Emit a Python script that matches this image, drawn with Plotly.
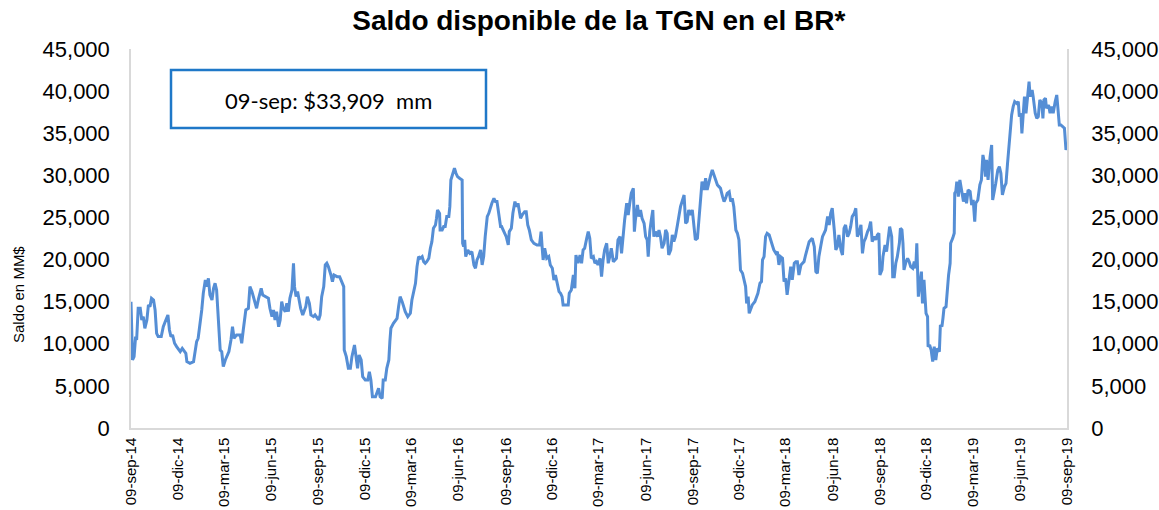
import pandas as pd
import plotly.graph_objects as go

# Días transcurridos desde el 09-sep-14 y saldo (MM$)
dias = [0, 1, 3, 6, 9, 11, 14, 18, 21, 24, 27, 31, 34, 37, 40, 44, 47, 50, 53, 59,
        63, 68, 72, 75, 78, 81, 85, 89, 92, 96, 100, 104, 107, 109, 115, 122, 125, 128, 131, 135,
        138, 141, 145, 148, 151, 154, 158, 161, 164, 167, 171, 174, 177, 180, 184, 187, 191, 195, 198, 201,
        206, 213, 216, 219, 224, 229, 232, 236, 239, 242, 245, 249, 254, 257, 262, 268, 271, 275, 278, 281,
        284, 288, 291, 294, 297, 301, 304, 307, 310, 314, 317, 319, 322, 325, 328, 331, 335, 338, 341, 344,
        348, 351, 356, 359, 366, 369, 372, 376, 379, 382, 385, 390, 393, 396, 402, 407, 411, 415, 416, 420,
        424, 428, 431, 436, 439, 442, 445, 449, 452, 457, 462, 465, 468, 471, 477, 480, 483, 486, 490, 492,
        496, 499, 503, 505, 507, 512, 516, 519, 522, 525, 529, 532, 535, 540, 545, 548, 551, 555, 558, 561,
        564, 568, 571, 574, 577, 581, 584, 587, 590, 594, 596, 598, 602, 603, 607, 610, 613, 616, 620, 622,
        624, 628, 631, 634, 637, 641, 646, 647, 649, 651, 653, 657, 661, 665, 669, 672, 675, 678, 682, 685,
        688, 691, 695, 698, 701, 704, 708, 711, 714, 717, 721, 723, 727, 732, 736, 738, 742, 745, 749, 752,
        755, 760, 763, 768, 771, 774, 777, 781, 786, 792, 797, 800, 802, 804, 807, 811, 815, 818, 822, 825,
        828, 831, 835, 838, 841, 843, 848, 853, 855, 859, 863, 866, 868, 872, 876, 879, 882, 885, 889, 892,
        895, 898, 902, 905, 908, 911, 915, 918, 921, 924, 928, 931, 934, 937, 941, 944, 947, 950, 954, 957,
        960, 963, 967, 970, 973, 976, 980, 982, 984, 988, 991, 994, 997, 1001, 1004, 1007, 1009, 1012, 1015, 1018,
        1020, 1023, 1027, 1030, 1033, 1036, 1040, 1043, 1046, 1049, 1053, 1056, 1059, 1062, 1066, 1069, 1072, 1075, 1079, 1082,
        1085, 1088, 1092, 1095, 1098, 1101, 1105, 1108, 1111, 1114, 1118, 1121, 1124, 1128, 1131, 1134, 1137, 1141, 1144, 1147,
        1150, 1154, 1157, 1160, 1163, 1167, 1170, 1173, 1176, 1180, 1183, 1186, 1189, 1193, 1196, 1199, 1201, 1204, 1206, 1209,
        1212, 1217, 1221, 1223, 1227, 1230, 1232, 1235, 1238, 1241, 1245, 1248, 1251, 1254, 1258, 1261, 1264, 1267, 1271, 1274,
        1277, 1280, 1284, 1287, 1290, 1294, 1297, 1300, 1303, 1307, 1310, 1313, 1316, 1320, 1323, 1326, 1329, 1333, 1336, 1339,
        1342, 1346, 1349, 1352, 1355, 1359, 1362, 1365, 1368, 1372, 1375, 1378, 1381, 1385, 1388, 1391, 1394, 1398, 1401, 1404,
        1407, 1411, 1414, 1417, 1420, 1424, 1427, 1430, 1433, 1437, 1440, 1443, 1446, 1450, 1453, 1456, 1459, 1461, 1465, 1467,
        1471, 1474, 1477, 1480, 1484, 1486, 1489, 1492, 1495, 1499, 1501, 1504, 1506, 1508, 1512, 1515, 1518, 1521, 1525, 1528,
        1531, 1533, 1536, 1539, 1542, 1544, 1547, 1551, 1554, 1555, 1558, 1561, 1564, 1567, 1570, 1573, 1577, 1579, 1582, 1584,
        1586, 1590, 1592, 1595, 1598, 1599, 1603, 1606, 1607, 1609, 1611, 1614, 1617, 1620, 1624, 1627, 1630, 1633, 1637, 1640,
        1643, 1646, 1648, 1652, 1654, 1656, 1659, 1662, 1665, 1667, 1669, 1672, 1676, 1679, 1681, 1684, 1687, 1691, 1694, 1697,
        1700, 1704, 1707, 1710, 1713, 1715, 1718, 1721, 1724, 1728, 1731, 1733, 1736, 1738, 1741, 1743, 1746, 1749, 1752, 1754,
        1758, 1760, 1764, 1767, 1770, 1773, 1777, 1779, 1781, 1784, 1786, 1790, 1793, 1796, 1799, 1803, 1806, 1808, 1811, 1814,
        1818, 1821, 1824, 1826]

saldo = [15000, 12830, 8080, 8470, 10850, 10450, 14210, 14210, 12830, 13220, 11840, 12830, 14610, 14410, 15400, 15200, 14010, 11240, 10850, 10850,
         12030, 12830, 13420, 11640, 10850, 11050, 10060, 9660, 9460, 9070, 9460, 9070, 8870, 7880, 7680, 7880, 9070, 10250, 10650, 12430,
         14010, 15990, 17580, 16780, 17770, 15790, 15200, 16590, 17180, 16390, 12830, 9260, 9070, 7290, 8080, 8470, 9070, 10450, 12030, 10650,
         11050, 11050, 10060, 11640, 14010, 14210, 16780, 16190, 15600, 15000, 14210, 15400, 16590, 15790, 15600, 15400, 14210, 13220, 14010, 12830,
         13820, 12030, 12830, 15000, 14210, 13820, 14800, 13820, 15400, 16390, 19550, 16780, 15600, 16190, 15200, 14210, 13420, 14010, 14410, 15600,
         14800, 13420, 13220, 13420, 12830, 13420, 15600, 16790, 19360, 19560, 19160, 18170, 17380, 18170, 17970, 17970, 17380, 16790, 9260, 8470,
         7090, 7090, 8470, 9860, 8470, 7090, 8670, 8080, 6100, 5700, 5700, 6690, 5700, 3720, 3720, 4120, 4710, 3720, 3520, 5700,
         5700, 7090, 8080, 10250, 11840, 12430, 12830, 13020, 14410, 15600, 15000, 14410, 13820, 13220, 13620, 15200, 16000, 17180, 19160, 20350,
         20150, 20350, 19750, 19560, 19750, 20150, 21340, 22130, 23710, 24110, 24900, 25890, 25490, 23510, 23510, 23910, 23910, 25100, 25100, 26280,
         29450, 30240, 30835, 30240, 29850, 29650, 29450, 21930, 21530, 22330, 20350, 21140, 20740, 20940, 19360, 18960, 19950, 20350, 21140, 19360,
         20350, 22720, 25100, 25490, 26280, 26680, 27270, 26880, 26880, 25490, 23910, 23910, 23320, 22720, 21730, 23320, 23710, 25490, 26880, 26280,
         26680, 24900, 25290, 25690, 25690, 24110, 23510, 22330, 21930, 21730, 21730, 23320, 21530, 19950, 21340, 20150, 20350, 19360, 18960, 17580,
         18170, 17380, 16190, 15990, 15600, 14610, 14610, 14610, 15990, 16390, 18170, 16590, 20540, 19560, 20540, 19560, 21140, 21340, 22520, 23320,
         22520, 20150, 20350, 19560, 19750, 19360, 20150, 17970, 19950, 21140, 21930, 19560, 20350, 21340, 19750, 19950, 20150, 22330, 22720, 20740,
         22920, 24700, 26680, 25290, 26680, 27870, 28460, 23320, 24700, 26480, 25100, 25890, 24900, 24300, 22720, 22330, 20350, 23320, 24700, 25890,
         22720, 23320, 22720, 23510, 22720, 21340, 21930, 23510, 23120, 20540, 21140, 22920, 22130, 22720, 24110, 25490, 26280, 26880, 27670, 24300,
         24500, 25890, 25290, 25890, 24110, 22330, 22520, 24900, 26680, 29250, 28260, 29650, 28260, 29450, 30040, 30640, 30040, 29450, 28860, 28660,
         28460, 27470, 26880, 27270, 27870, 28060, 26880, 27270, 26280, 23510, 23120, 22330, 18760, 18370, 17380, 16790, 14800, 15600, 13620, 14210,
         14610, 15000, 15600, 15990, 17180, 17380, 19950, 20350, 22720, 23120, 22920, 22130, 21730, 21140, 20740, 20940, 19360, 20350, 20150, 17380,
         17770, 15800, 18170, 19160, 17580, 19560, 19750, 19750, 18170, 19360, 19560, 19750, 20540, 21530, 22130, 22330, 22520, 21530, 18570, 18370,
         20350, 21730, 22720, 23120, 23510, 25100, 24110, 25490, 26090, 23510, 21140, 21530, 22920, 21140, 20540, 23710, 24110, 22720, 23120, 23910,
         25100, 25490, 26090, 22720, 23120, 24110, 20740, 22130, 22520, 23320, 23710, 24500, 22130, 22720, 22330, 22920, 23120, 18170, 18760, 20350,
         21730, 20940, 22720, 23910, 22720, 17970, 17970, 19560, 20350, 21930, 23710, 23510, 21930, 18760, 19750, 20150, 19750, 19160, 18960, 19750,
         18960, 21930, 15600, 17180, 18570, 14800, 17580, 13620, 13220, 9660, 9860, 9260, 7880, 9660, 8080, 9460, 9070, 12230, 12040, 13030,
         14210, 14410, 15990, 18170, 19560, 21930, 22520, 23120, 27870, 28070, 29250, 27470, 29450, 28260, 26880, 27870, 26680, 28260, 28070, 26480,
         27080, 24500, 26680, 27080, 28460, 28860, 29450, 32420, 31430, 29850, 31830, 29450, 32220, 33610, 27080, 27870, 29050, 30640, 31030, 30240,
         27670, 28660, 29050, 31430, 33610, 35190, 37170, 38160, 38750, 38550, 38750, 36970, 37370, 34990, 37760, 39350, 37370, 39740, 41130, 39350,
         40140, 39350, 37370, 36770, 36970, 38950, 38550, 36770, 38950, 39150, 37960, 38360, 37370, 38160, 37370, 38750, 39540, 38160, 35980, 35980,
         35780, 35590, 33010, 33909]

etiquetas_x = ["09-sep-14", "09-dic-14", "09-mar-15", "09-jun-15", "09-sep-15", "09-dic-15", "09-mar-16",
               "09-jun-16", "09-sep-16", "09-dic-16", "09-mar-17", "09-jun-17", "09-sep-17", "09-dic-17",
               "09-mar-18", "09-jun-18", "09-sep-18", "09-dic-18", "09-mar-19", "09-jun-19", "09-sep-19"]
fechas_ticks = ["2014-09-09", "2014-12-09", "2015-03-09", "2015-06-09", "2015-09-09", "2015-12-09", "2016-03-09",
                "2016-06-09", "2016-09-09", "2016-12-09", "2017-03-09", "2017-06-09", "2017-09-09", "2017-12-09",
                "2018-03-09", "2018-06-09", "2018-09-09", "2018-12-09", "2019-03-09", "2019-06-09", "2019-09-09"]
ticks_y = [0, 5000, 10000, 15000, 20000, 25000, 30000, 35000, 40000, 45000]

titulo = "Saldo disponible de la TGN en el BR*"
titulo_y = "Saldo en MM$"
nota = "09-sep: $33,909  mm"

fechas = pd.Timestamp("2014-09-09") + pd.to_timedelta(dias, unit="D")

fig = go.Figure()
fig.add_trace(go.Scatter(x=fechas, y=saldo, mode="lines",
                         line=dict(color="#558ED5", width=3), showlegend=False))
fig.add_trace(go.Scatter(x=fechas, y=saldo, mode="lines", yaxis="y2",
                         line=dict(color="rgba(0,0,0,0)", width=0), showlegend=False, hoverinfo="skip"))

axis_font = dict(family="Liberation Sans, Arial", size=22, color="#000000")

fig.update_layout(
    width=1159, height=510,
    margin=dict(l=131, r=92, t=49, b=82, autoexpand=False),
    paper_bgcolor="white", plot_bgcolor="white",
    title=dict(text="<b>" + titulo + "</b>", x=0.5167, xanchor="center", yref="container",
               y=0.96, yanchor="middle",
               font=dict(family="Liberation Sans, Arial", size=28, color="#000000")),
    xaxis=dict(type="date", range=["2014-09-09", "2019-09-09"], automargin=False,
               tickmode="array", tickvals=fechas_ticks, ticktext=etiquetas_x, tickangle=-90,
               tickfont=dict(family="Liberation Sans, Arial", size=15, color="#000000"),
               showline=True, linecolor="#D9D9D9", linewidth=1.5, showgrid=False, zeroline=False,
               ticks="", ticklabelstandoff=2),
    yaxis=dict(range=[0, 45000], tickmode="array", tickvals=ticks_y, tickformat=",", automargin=False,
               tickfont=axis_font, showline=True, linecolor="#D9D9D9", linewidth=1.5,
               showgrid=False, zeroline=False, ticks="", ticklabelstandoff=15),
    yaxis2=dict(range=[0, 45000], overlaying="y", side="right", tickmode="array", tickvals=ticks_y,
                tickformat=",", tickfont=axis_font, showline=True, linecolor="#D9D9D9", linewidth=1.5,
                showgrid=False, zeroline=False, ticks="", ticklabelstandoff=18, automargin=False),
)

fig.add_annotation(xref="paper", yref="paper", x=(18 - 131) / 936, y=(428 - 295) / 379,
                   text=titulo_y, showarrow=False, textangle=-90, xanchor="center", yanchor="middle",
                   font=dict(family="Liberation Sans Narrow, Liberation Sans, Arial", size=15, color="#000000"))

fig.add_shape(type="rect", xref="paper", yref="paper",
              x0=(171 - 131) / 936, x1=(486 - 131) / 936,
              y0=(428 - 128) / 379, y1=(428 - 70) / 379,
              line=dict(color="#1F78C8", width=2.5), fillcolor="white", layer="above")
fig.add_annotation(xref="paper", yref="paper", x=(328 - 131) / 936, y=(428 - 100) / 379,
                   text=nota, showarrow=False, xanchor="center", yanchor="middle",
                   font=dict(family="Lato, Open Sans", size=22, color="#000000"))

fig.write_html("out.html", config={"displayModeBar": False},
               post_script="document.body.style.margin='0';document.body.style.overflow='hidden';")
